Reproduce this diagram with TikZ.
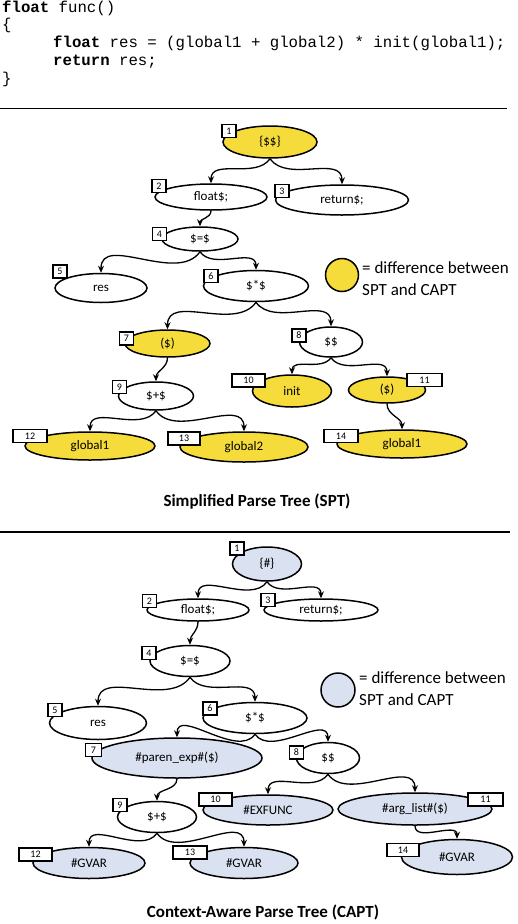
\documentclass[tikz,border=0pt]{standalone}
\usepackage{fontspec}
\setmainfont{Carlito}
\newfontfamily\codefont{Liberation Mono}
\usetikzlibrary{shapes.geometric,arrows.meta}
\definecolor{spty}{HTML}{F6DC3A}
\definecolor{captb}{HTML}{DAE1F0}
\tikzset{
  pnode/.style={ellipse, draw=black, line width=1.5pt, inner sep=0pt, font=\fontsize{13}{15}\selectfont},
  nbox/.style={draw=black, fill=white, line width=1.2pt, inner sep=0pt, minimum height=13pt, font=\fontsize{10}{11}\selectfont},
  edge/.style={line width=1.3pt, -{Stealth[length=7pt,width=6pt]}},
  goleft/.style={out=-125,in=90},
  goright/.style={out=-55,in=90},
  godown/.style={out=-90,in=90},
  code/.style={anchor=base west, inner sep=0pt, font=\codefont\fontsize{15.7}{17}\selectfont},
  legend/.style={anchor=west, align=left, inner sep=0pt, font=\fontsize{17}{22}\selectfont},
  ttl/.style={inner sep=0pt, font=\bfseries\fontsize{17}{19}\selectfont},
  rule/.style={line width=1.5pt}
}
\begin{document}
\begin{tikzpicture}[x=1pt,y=-1pt]
\useasboundingbox (0,0) rectangle (518,924);
\fill[white] (0,0) rectangle (518,924);
% code
\node[code] (l1) at (2,12) {\textbf{float} func()};
\node[code] (l2) at (2,29.7) {\{};
\node[code] (l3) at (53,47.5) {\textbf{float} res = (global1 + global2) * init(global1);};
\node[code] (l4) at (53,65.2) {\textbf{return} res;};
\node[code] (l5) at (2,83) {\}};
\coordinate (r1a) at (0,108.5); \coordinate (r1b) at (507,108.5);
\draw[rule] (r1a) -- (r1b);
\coordinate (r2a) at (0,532); \coordinate (r2b) at (510,532);
\draw[rule] (r2a) -- (r2b);
% ---------- SPT ----------
\node[pnode, fill=spty, minimum width=94pt, minimum height=32pt] (s1) at (270,142) {\{\$\$\}};
\node[pnode, fill=white, minimum width=112pt, minimum height=26pt] (s2) at (211,197) {float\$;};
\node[pnode, fill=white, minimum width=133pt, minimum height=30pt] (s3) at (342,200) {return\$;};
\node[pnode, fill=white, minimum width=76pt, minimum height=24pt] (s4) at (200,239) {\$=\$};
\node[pnode, fill=white, minimum width=92pt, minimum height=29pt] (s5) at (101,288) {res};
\node[pnode, fill=white, minimum width=105pt, minimum height=31pt] (s6) at (256,286) {\$*\$};
\node[pnode, fill=spty, minimum width=85pt, minimum height=27pt] (s7) at (167.5,343.5) {(\$)};
\node[pnode, fill=white, minimum width=63pt, minimum height=30pt] (s8) at (331,342) {\$\$};
\node[pnode, fill=white, minimum width=75pt, minimum height=28pt] (s9) at (156,396) {\$+\$};
\node[pnode, fill=spty, minimum width=79pt, minimum height=32pt] (s10) at (292,391) {init};
\node[pnode, fill=spty, minimum width=77pt, minimum height=26pt] (s11) at (387,390) {(\$)};
\node[pnode, fill=spty, minimum width=130pt, minimum height=28pt] (s12) at (90,446) {global1};
\node[pnode, fill=spty, minimum width=128pt, minimum height=30pt] (s13) at (244,447) {global2};
\node[pnode, fill=spty, minimum width=130pt, minimum height=28pt] (s14) at (402,444) {global1};
\node[nbox, minimum width=14pt] (sb1) at (229,131) {1};
\node[nbox, minimum width=14pt] (sb2) at (159,186) {2};
\node[nbox, minimum width=14pt] (sb3) at (282,191) {3};
\node[nbox, minimum width=14pt] (sb4) at (159.5,234) {4};
\node[nbox, minimum width=14pt] (sb5) at (60,271.5) {5};
\node[nbox, minimum width=14pt] (sb6) at (211,276) {6};
\node[nbox, minimum width=14pt] (sb7) at (126.5,338.5) {7};
\node[nbox, minimum width=14pt] (sb8) at (299,335.5) {8};
\node[nbox, minimum width=14pt] (sb9) at (119.5,387) {9};
\node[nbox, minimum width=33pt] (sb10) at (248.5,380.5) {10};
\node[nbox, minimum width=35pt] (sb11) at (424.5,380) {11};
\node[nbox, minimum width=34pt] (sb12) at (30,436) {12};
\node[nbox, minimum width=32pt] (sb13) at (184,438.5) {13};
\node[nbox, minimum width=34pt] (sb14) at (341,436) {14};
\draw[edge] (s1.south) to[goleft] (s2.north);
\draw[edge] (s1.south) to[goright] (s3.north);
\draw[edge] (s2.south) to[godown] (s4.north);
\draw[edge] (s4.south) to[goleft] (s5.north);
\draw[edge] (s4.south) to[goright] (s6.north);
\draw[edge] (s6.south) to[goleft] (s7.north);
\draw[edge] (s6.south) to[goright] (s8.north);
\draw[edge] (s7.south) to[godown] (s9.north);
\draw[edge] (s8.south) to[goleft] (s10.north);
\draw[edge] (s8.south) to[goright] (s11.north);
\draw[edge] (s9.south) to[goleft] (s12.north);
\draw[edge] (s9.south) to[goright] (s13.north);
\draw[edge] (s11.south) to[godown] (s14.north);
\node[circle, draw=black, line width=1.5pt, fill=spty, minimum size=33pt, inner sep=0pt] (slc) at (342,275) {};
\node[legend] (slt) at (362,279) {= difference between\\SPT and CAPT};
\node[ttl] (stitle) at (257,502) {Simplified Parse Tree (SPT)};
% ---------- CAPT ----------
\node[pnode, fill=captb, minimum width=69pt, minimum height=34pt] (c1) at (267,564) {\{\#\}};
\node[pnode, fill=white, minimum width=102pt, minimum height=22pt] (c2) at (198,610) {float\$;};
\node[pnode, fill=white, minimum width=114pt, minimum height=22pt] (c3) at (321,610) {return\$;};
\node[pnode, fill=white, minimum width=80pt, minimum height=31pt] (c4) at (190,661) {\$=\$};
\node[pnode, fill=white, minimum width=97pt, minimum height=33pt] (c5) at (98,723) {res};
\node[pnode, fill=white, minimum width=104pt, minimum height=31pt] (c6) at (255,718) {\$*\$};
\node[pnode, fill=captb, minimum width=170pt, minimum height=40pt] (c7) at (177,758) {\#paren\_exp\#(\$)};
\node[pnode, fill=white, minimum width=63pt, minimum height=31pt] (c8) at (328,758) {\$\$};
\node[pnode, fill=white, minimum width=79pt, minimum height=31pt] (c9) at (157,817) {\$+\$};
\node[pnode, fill=captb, minimum width=130pt, minimum height=30pt] (c10) at (268,810) {\#EXFUNC};
\node[pnode, fill=captb, minimum width=154pt, minimum height=32pt] (c11) at (415,809) {\#arg\_list\#(\$)};
\node[pnode, fill=captb, minimum width=112pt, minimum height=31pt] (c12) at (89,863) {\#GVAR};
\node[pnode, fill=captb, minimum width=108pt, minimum height=31pt] (c13) at (244,863) {\#GVAR};
\node[pnode, fill=captb, minimum width=111pt, minimum height=35pt] (c14) at (457,857) {\#GVAR};
\node[nbox, minimum width=14pt] (cb1) at (237,548.5) {1};
\node[nbox, minimum width=14pt] (cb2) at (149.5,601) {2};
\node[nbox, minimum width=14pt] (cb3) at (268,600) {3};
\node[nbox, minimum width=14pt] (cb4) at (149,653) {4};
\node[nbox, minimum width=14pt] (cb5) at (55,710) {5};
\node[nbox, minimum width=14pt] (cb6) at (210,708.5) {6};
\node[nbox, minimum width=16pt] (cb7) at (93.5,750) {7};
\node[nbox, minimum width=14pt] (cb8) at (296.5,752.5) {8};
\node[nbox, minimum width=14pt] (cb9) at (120,805) {9};
\node[nbox, minimum width=33pt] (cb10) at (215.5,799.5) {10};
\node[nbox, minimum width=35pt] (cb11) at (485.5,799.5) {11};
\node[nbox, minimum width=33pt] (cb12) at (35.5,854.5) {12};
\node[nbox, minimum width=34pt] (cb13) at (190,852.5) {13};
\node[nbox, minimum width=32pt] (cb14) at (403,850) {14};
\draw[edge] (c1.south) to[goleft] (c2.north);
\draw[edge] (c1.south) to[goright] (c3.north);
\draw[edge] (c2.south) to[godown] (c4.north);
\draw[edge] (c4.south) to[goleft] (c5.north);
\draw[edge] (c4.south) to[goright] (c6.north);
\draw[edge] (c6.south) to[goleft] (c7.north);
\draw[edge] (c6.south) to[goright] (c8.north);
\draw[edge] (c7.south) to[godown] (c9.north);
\draw[edge] (c8.south) to[goleft] (c10.north);
\draw[edge] (c8.south) to[goright] (c11.north);
\draw[edge] (c9.south) to[goleft] (c12.north);
\draw[edge] (c9.south) to[goright] (c13.north);
\draw[edge] (c11.south) to[godown] (c14.north);
\node[circle, draw=black, line width=1.5pt, fill=captb, minimum size=34pt, inner sep=0pt] (clc) at (338,690) {};
\node[legend] (clt) at (359,689) {= difference between\\SPT and CAPT};
\node[ttl] (ctitle) at (263,912) {Context-Aware Parse Tree (CAPT)};
\end{tikzpicture}
\end{document}
